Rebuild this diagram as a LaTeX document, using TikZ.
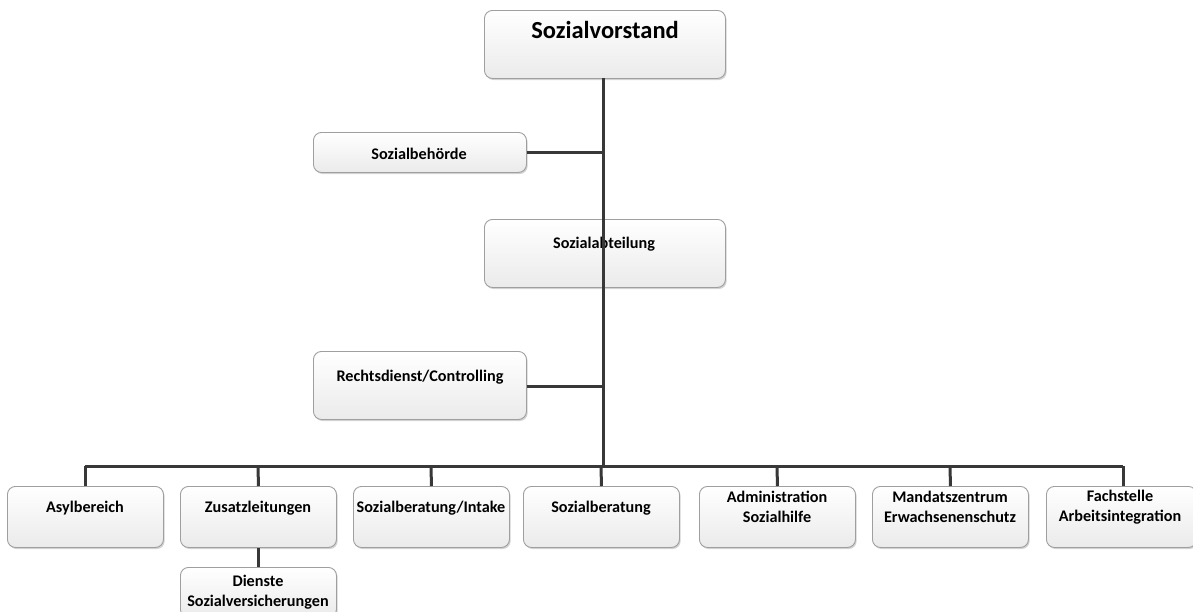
\documentclass[tikz,border=0pt]{standalone}
\usepackage{fontspec}
\setmainfont{Carlito}
\usetikzlibrary{shadows}
\begin{document}
\begin{tikzpicture}[x=1pt,y=-1pt,
  box/.style={draw=gray!75, line width=0.9pt, rounded corners=8pt,
    top color=white, bottom color=gray!16,
    drop shadow={shadow xshift=1.2pt, shadow yshift=-1.6pt, opacity=0.35, fill=gray},
    inner sep=0pt, anchor=north west},
  lbl/.style={font=\bfseries\fontsize{16.2}{20.5}\selectfont, align=center, inner sep=0pt},
  link/.style={draw=black!78, line width=3pt}]
\useasboundingbox (0,0) rectangle (1193,611);

% boxes
\node[box, minimum width=241pt, minimum height=68pt] (vor) at (484,10) {};
\node[box, minimum width=213pt, minimum height=40pt] (beh) at (313,132) {};
\node[box, minimum width=241pt, minimum height=68pt] (abt) at (484,219) {};
\node[box, minimum width=213pt, minimum height=68pt] (rec) at (313,351) {};
\node[box, minimum width=156pt, minimum height=61pt] (asy) at (7,486) {};
\node[box, minimum width=156pt, minimum height=61pt] (zus) at (180,486) {};
\node[box, minimum width=156pt, minimum height=61pt] (int) at (353,486) {};
\node[box, minimum width=156pt, minimum height=61pt] (ber) at (523,486) {};
\node[box, minimum width=156pt, minimum height=61pt] (adm) at (699,486) {};
\node[box, minimum width=156pt, minimum height=61pt] (man) at (872,486) {};
\node[box, minimum width=150pt, minimum height=61pt] (fac) at (1046,486) {};
\node[box, minimum width=156pt, minimum height=50pt] (die) at (180,567) {};

% labels
\node[lbl, font=\bfseries\fontsize{24.5}{28}\selectfont] (tvor) at (605,30) {Sozialvorstand};
\node[lbl] (tbeh) at (419,154) {Sozialbehörde};
\node[lbl] (tabt) at (604,244) {Sozialabteilung};
\node[lbl] (trec) at (420,377) {Rechtsdienst/Controlling};
\node[lbl] (tasy) at (85,508) {Asylbereich};
\node[lbl] (tzus) at (258,508) {Zusatzleitungen};
\node[lbl] (tint) at (431,508) {Sozialberatung/Intake};
\node[lbl] (tber) at (601,508) {Sozialberatung};
\node[lbl] (tadm) at (777,507) {Administration\\Sozialhilfe};
\node[lbl] (tman) at (950,507) {Mandatszentrum\\Erwachsenenschutz};
\node[lbl] (tfac) at (1120,507) {Fachstelle\\Arbeitsintegration};
\node[lbl] (tdie) at (258,592) {Dienste\\Sozialversicherungen};

% connectors
\coordinate (bus) at (603,466);
\draw[link] (603,78) coordinate (t0) -- (bus);
\draw[link] (beh.east |- 0,152) -- (603,152);
\draw[link] (rec.east |- 0,386) -- (603,386);
\draw[link] (85,466) -- (1123,466);
\draw[link] (85,466) -- (asy.north -| 85,0);
\draw[link] (258,466) -- (zus.north);
\draw[link] (431,466) -- (int.north);
\draw[link] (601,466) -- (ber.north);
\draw[link] (777,466) -- (adm.north);
\draw[link] (950,466) -- (man.north);
\draw[link] (1123,466) -- (fac.north -| 1123,0);
\draw[link] (zus.south) -- (die.north);
\end{tikzpicture}
\end{document}
